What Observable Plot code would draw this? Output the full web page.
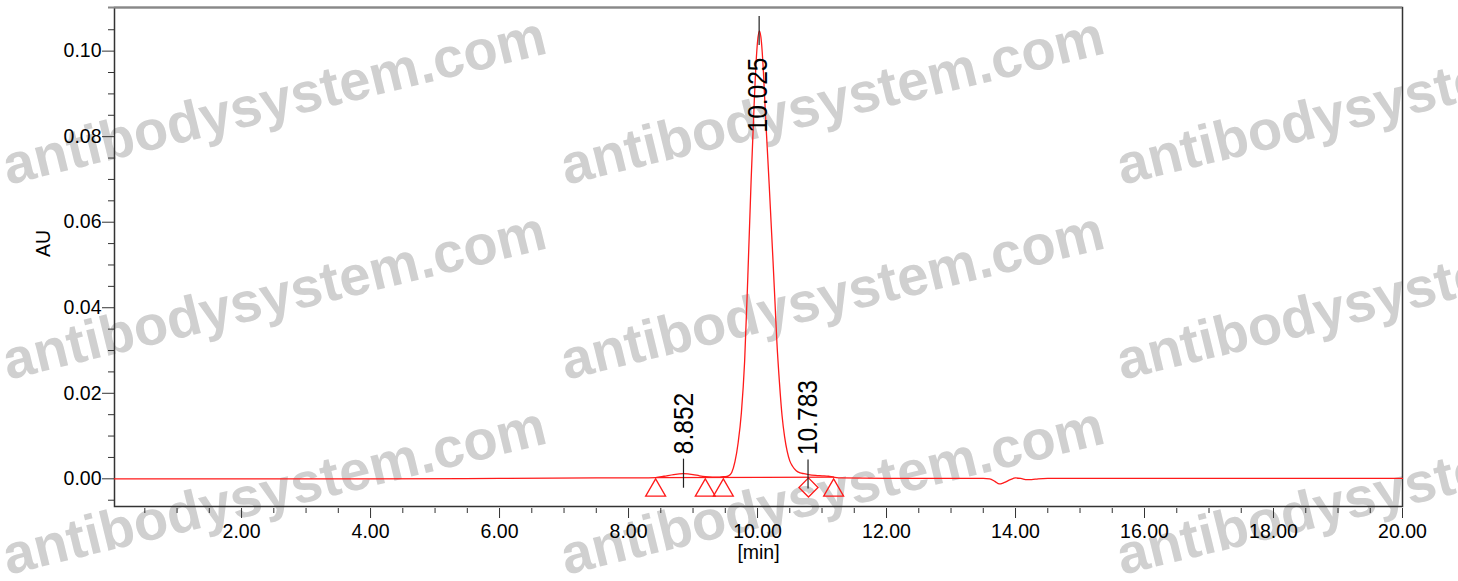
<!DOCTYPE html>
<html>
<head>
<meta charset="utf-8">
<script src="https://cdn.jsdelivr.net/npm/d3@7"></script>
<script src="https://cdn.jsdelivr.net/npm/@observablehq/plot@0.6"></script>
<style>
  html, body { margin: 0; padding: 0; background: #fff; }
  #chart { width: 1458px; height: 581px; overflow: hidden; }
</style>
</head>
<body>
<div id="chart"></div>
<script>
// ---- chromatogram trace (retention time in min, absorbance in AU) ----
const traceTime = [0.03, 2.0, 4.0, 6.0, 7.5, 8.2, 8.42, 8.55, 8.70, 8.85, 9.00, 9.10, 9.19, 9.30, 9.40, 9.47,
  9.50, 9.55, 9.60, 9.65, 9.70, 9.75, 9.80, 9.85, 9.90, 9.95, 9.98, 10.00, 10.03, 10.06, 10.09, 10.12,
  10.15, 10.18, 10.21, 10.24, 10.27, 10.30, 10.34, 10.38, 10.42, 10.46, 10.50, 10.54, 10.60, 10.66,
  10.72, 10.79, 10.90, 11.00, 11.10, 11.18, 11.30, 12.0, 13.0, 13.5, 13.6, 13.68, 13.75, 13.82, 13.92,
  14.00, 14.08, 14.18, 14.25, 14.35, 14.5, 16.0, 18.0, 20.0];
const traceAU = [0.0000, 0.0000, 0.0000, 0.0001, 0.0002, 0.0002, 0.0003, 0.0006, 0.0010, 0.0012, 0.0010, 0.0007, 0.0005, 0.0004, 0.0004, 0.0005,
  0.0005, 0.0007, 0.0015, 0.0040, 0.0085, 0.0155, 0.0275, 0.0475, 0.0695, 0.0885, 0.0980, 0.1022, 0.1047, 0.1022, 0.0955, 0.0860,
  0.0775, 0.0690, 0.0600, 0.0510, 0.0415, 0.0320, 0.0225, 0.0148, 0.0098, 0.0064, 0.0042, 0.0030, 0.0019, 0.0014,
  0.0012, 0.0010, 0.0008, 0.0007, 0.0006, 0.0004, 0.0002, 0.0001, 0.0001, 0.0001, 0.0000, -0.0006, -0.0012, -0.0009, -0.0002,
  0.0002, 0.0001, -0.0002, -0.0002, 0.0000, 0.0001, 0.0001, 0.0001, 0.0001];

// ---- integration baseline ----
const baselineTime = [8.42, 11.18];
const baselineAU = [0.0003, 0.0004];

// ---- peak start/end markers ----
const triangleTimes = [8.42, 9.19, 9.47, 11.18];
const diamondTimes = [10.79];

// ---- labelled peaks ----
const peakTimes = [8.852, 10.025, 10.783];
const peakLabels = ["8.852", "10.025", "10.783"];
const peakAU = [0.0012, 0.1047, 0.0010];

// ---- axis ticks ----
const xMajorTicks = [2, 4, 6, 8, 10, 12, 14, 16, 18, 20];
const xMinorTicks = [0.5, 1, 1.5, 2.5, 3, 3.5, 4.5, 5, 5.5, 6.5, 7, 7.5, 8.5, 9, 9.5, 10.5, 11, 11.5,
  12.5, 13, 13.5, 14.5, 15, 15.5, 16.5, 17, 17.5, 18.5, 19, 19.5];
const yMajorTicks = [0.00, 0.02, 0.04, 0.06, 0.08, 0.10];
const yMinorTicks = [-0.005, 0.005, 0.01, 0.015, 0.025, 0.03, 0.035, 0.045, 0.05, 0.055, 0.065, 0.07,
  0.075, 0.085, 0.09, 0.095, 0.105];

const xLabel = "[min]";
const yLabel = "AU";
const watermark = "antibodysystem.com";

// tables built from the arrays
const trace = traceTime.map((t, i) => ({t, au: traceAU[i]}));
const baseline = baselineTime.map((t, i) => ({t, au: baselineAU[i]}));
const peaks = peakTimes.map((t, i) => ({t, au: peakAU[i], label: peakLabels[i]}));
const maxAU = d3.max(peakAU);
const smallPeaks = peaks.filter(p => p.au < maxAU);
const mainPeaks = peaks.filter(p => p.au === maxAU);
const ruleHalf = 0.0034;

const RED = "#ff1a1a";
const AXIS = "#333";
const FONT = "'Liberation Sans', Arial, Helvetica, sans-serif";

const diamondSymbol = {
  draw(context, size) {
    const r = Math.sqrt(size) * 0.62625;
    context.moveTo(0, -r);
    context.lineTo(r, 0);
    context.lineTo(0, r);
    context.lineTo(-r, 0);
    context.closePath();
  }
};

const plot = Plot.plot({
  width: 1458,
  height: 581,
  marginLeft: 114,
  marginRight: 56,
  marginTop: 7,
  marginBottom: 75,
  style: {fontFamily: FONT, fontSize: "19.5px", background: "#fff", color: "#000", overflow: "visible"},
  x: {domain: [0.03, 20], label: null},
  y: {domain: [-0.00647, 0.1102], label: null},
  marks: [
    // axes
    Plot.axisX(xMinorTicks, {anchor: "bottom", tickSize: 5, dy: 2, tickFormat: () => "", stroke: AXIS, label: null}),
    Plot.axisX(xMajorTicks, {anchor: "bottom", tickSize: 10, dy: 2, tickPadding: 6, tickFormat: d => d.toFixed(2),
      stroke: AXIS, fill: "#000", fontSize: 19.5, label: null}),
    Plot.axisY(yMinorTicks, {anchor: "left", tickSize: 6, tickFormat: () => "", stroke: AXIS, label: null}),
    Plot.axisY(yMajorTicks, {anchor: "left", tickSize: 12, tickPadding: 1, tickFormat: d => d.toFixed(2),
      stroke: AXIS, fill: "#000", fontSize: 19.5, label: null}),
    Plot.frame({stroke: AXIS, strokeWidth: 1.5}),
    Plot.ruleY([0.1102], {stroke: "#888", strokeWidth: 2, insetLeft: -6}),
    Plot.text([xLabel], {frameAnchor: "bottom", dy: 52, fontSize: 19.5, fill: "#000"}),
    Plot.text([yLabel], {frameAnchor: "left", dx: -71, rotate: -90, fontSize: 19.5, fill: "#000"}),

    // trace and integration
    Plot.line(baseline, {x: "t", y: "au", stroke: RED, strokeWidth: 1.2}),
    Plot.line(trace, {x: "t", y: "au", stroke: RED, strokeWidth: 1.3, curve: "monotone-x"}),
    Plot.dot(triangleTimes, {x: d => d, y: 0, symbol: "triangle", r: 7.4, dy: 11.5, stroke: RED, strokeWidth: 1.3, fill: "none"}),
    Plot.dot(diamondTimes, {x: d => d, y: 0, symbol: diamondSymbol, r: 8.6, dy: 8.6, stroke: RED, strokeWidth: 1.3, fill: "none"}),

    // peak markers and labels
    Plot.ruleX(peaks, {x: "t", y1: d => d.au - ruleHalf, y2: d => d.au + ruleHalf, stroke: "#222", strokeWidth: 1.2}),
    Plot.text(smallPeaks, {x: "t", y: d => d.au + ruleHalf, text: "label", rotate: -90, textAnchor: "start",
      lineAnchor: "middle", dy: -5, fontSize: 24.5, fill: "#000"}),
    Plot.text(mainPeaks, {x: "t", y: d => d.au - ruleHalf, text: "label", rotate: -90, textAnchor: "end",
      lineAnchor: "middle", dy: 12, dx: -1, fontSize: 24.5, fill: "#000"})
  ]
});

document.getElementById("chart").appendChild(plot);

// stretch peak labels slightly in glyph height, as in the reference
d3.select(plot).selectAll("text").filter(function() {
  return peakLabels.includes(this.textContent);
}).attr("transform", function() {
  return this.getAttribute("transform") + " scale(1,1.15)";
});

// watermark behind everything
const wmCols = [8, 566, 1122];
const wmRows = [185, 380, 575];
const wm = d3.select(plot).insert("g", ":first-child")
  .attr("pointer-events", "none")
  .attr("text-anchor", "start");
for (const cx of wmCols) for (const cy of wmRows) {
  wm.append("text")
    .attr("transform", `translate(${cx},${cy}) rotate(-13.7)`)
    .attr("text-anchor", "start")
    .attr("font-family", FONT)
    .attr("font-weight", "bold")
    .attr("font-size", 56)
    .attr("fill", "#d0d0d0")
    .text(watermark);
}
</script>
</body>
</html>
